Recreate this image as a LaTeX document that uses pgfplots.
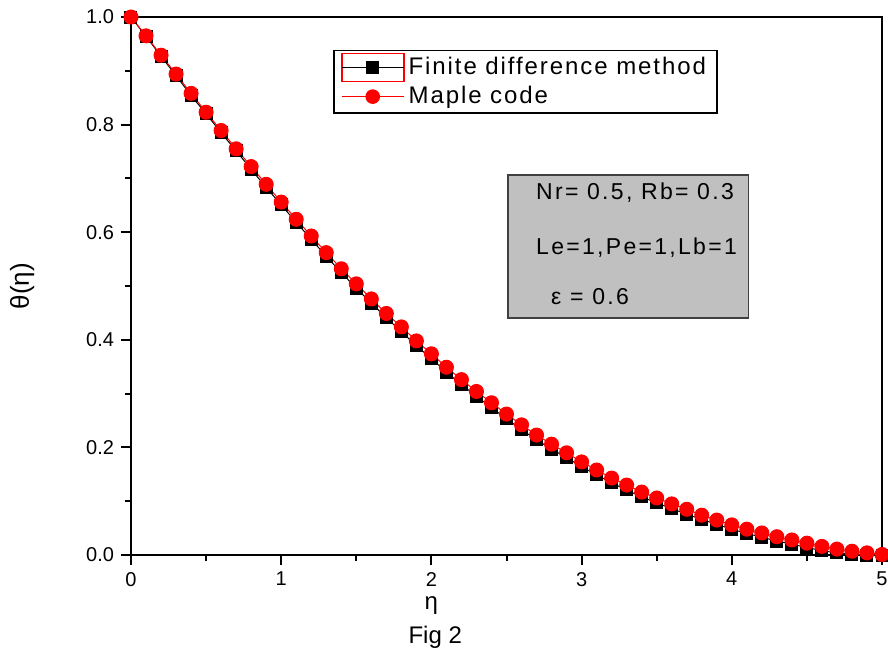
\documentclass[border=0pt]{standalone}
\usepackage{pgfplots}
\pgfplotsset{compat=1.18}
\usepackage{fontspec}
\setmainfont{Liberation Sans}
\newfontfamily\widefont[LetterSpace=8]{Liberation Sans}
\newfontfamily\boxfont[LetterSpace=10]{Liberation Sans}
\definecolor{boxgray}{RGB}{192,192,192}

\pgfplotstableread{
x y
0 1.000
0.1 0.964
0.2 0.927
0.3 0.891
0.4 0.854
0.5 0.820
0.6 0.785
0.7 0.751
0.8 0.717
0.9 0.683
1.0 0.651
1.1 0.618
1.2 0.587
1.3 0.555
1.4 0.525
1.5 0.496
1.6 0.468
1.7 0.441
1.8 0.415
1.9 0.389
2.0 0.365
2.1 0.340
2.2 0.317
2.3 0.295
2.4 0.274
2.5 0.253
2.6 0.233
2.7 0.214
2.8 0.197
2.9 0.181
3.0 0.164
3.1 0.149
3.2 0.134
3.3 0.121
3.4 0.108
3.5 0.097
3.6 0.086
3.7 0.076
3.8 0.066
3.9 0.057
4.0 0.048
4.1 0.040
4.2 0.033
4.3 0.026
4.4 0.020
4.5 0.014
4.6 0.008
4.7 0.004
4.8 0.001
4.9 0.000
5.0 0.000
}\fdm

\pgfplotstableread{
x y
0 1.000
0.1 0.965
0.2 0.929
0.3 0.894
0.4 0.858
0.5 0.823
0.6 0.789
0.7 0.755
0.8 0.722
0.9 0.689
1.0 0.656
1.1 0.624
1.2 0.593
1.3 0.562
1.4 0.532
1.5 0.504
1.6 0.476
1.7 0.449
1.8 0.424
1.9 0.398
2.0 0.374
2.1 0.349
2.2 0.326
2.3 0.304
2.4 0.283
2.5 0.262
2.6 0.242
2.7 0.223
2.8 0.206
2.9 0.190
3.0 0.173
3.1 0.158
3.2 0.143
3.3 0.130
3.4 0.117
3.5 0.106
3.6 0.095
3.7 0.085
3.8 0.074
3.9 0.065
4.0 0.056
4.1 0.048
4.2 0.041
4.3 0.034
4.4 0.028
4.5 0.022
4.6 0.016
4.7 0.011
4.8 0.007
4.9 0.004
5.0 0.001
}\maple

\begin{document}
\begin{tikzpicture}
\useasboundingbox (-65.5pt,-53pt) rectangle (378.5pt,277.5pt);
\begin{axis}[
  at={(0,0)}, anchor=south west,
  scale only axis,
  width=375.5pt, height=269pt,
  xmin=0, xmax=5, ymin=0, ymax=1,
  xtick={0,1,2,3,4,5},
  minor xtick={0.5,1.5,2.5,3.5,4.5},
  ytick={0,0.2,0.4,0.6,0.8,1.0},
  minor ytick={0.1,0.3,0.5,0.7,0.9},
  tick pos=left,
  tick align=outside,
  major tick length=5pt,
  minor tick length=3pt,
  axis line style={line width=1pt},
  every tick/.style={black, line width=1pt},
  /pgf/number format/assume math mode=true,
  yticklabel style={/pgf/number format/.cd, fixed, fixed zerofill, precision=1},
  xticklabel style={/pgf/number format/.cd, fixed, precision=0},
  ticklabel style={font=\fontsize{10}{11}\selectfont},
  xlabel={η},
  xlabel style={at={(axis description cs:0.40,-0.093)}, anchor=center, font=\fontsize{12}{13}\selectfont},
  ylabel={θ(η)},
  ylabel style={at={(axis description cs:-0.145,0.5)}, anchor=center, font=\fontsize{13}{14}\selectfont},
  legend style={at={(rel axis cs:0.269,0.939)}, anchor=north west, draw=black, line width=0.8pt,
    font=\widefont\fontsize{12}{13}\selectfont, legend cell align=left,
    row sep=0pt, inner xsep=3.5pt, inner ysep=1pt},
]
\addplot[black, line width=0.5pt, mark=square*, mark size=3pt, mark options={fill=black, draw=black, solid},
  legend image code/.code={
    \draw[draw=red, line width=0.9pt] (0pt,-7pt) rectangle (31pt,7pt);
    \draw[draw=black, line width=0.5pt] (0pt,0pt) -- (31pt,0pt);
    \fill[black] (12.5pt,-3pt) rectangle (18.5pt,3pt);
  }] table[x=x,y=y] {\fdm};
\addlegendentry{Finite difference method}
\addplot[red, line width=0.5pt, mark=*, mark size=3.5pt, mark options={fill=red, draw=red, solid},
  legend image code/.code={
    \draw[draw=red, line width=0.5pt] (0pt,0pt) -- (31pt,0pt);
    \fill[red] (15.5pt,0pt) circle (3.4pt);
  }] table[x=x,y=y] {\maple};
\addlegendentry{Maple code}

\draw[fill=boxgray, draw=black!75, line width=0.8pt] (rel axis cs:0.502,0.4405) rectangle (rel axis cs:0.822,0.706);
\node[anchor=west, font=\boxfont\fontsize{11.5}{12}\selectfont, inner sep=0pt] at (rel axis cs:0.539,0.673) {Nr= 0.5, Rb= 0.3};
\node[anchor=west, font=\boxfont\fontsize{11.5}{12}\selectfont, inner sep=0pt] at (rel axis cs:0.539,0.571) {Le=1,Pe=1,Lb=1};
\node[anchor=west, font=\boxfont\fontsize{11.5}{12}\selectfont, inner sep=0pt] at (rel axis cs:0.559,0.481) {ε = 0.6};
\end{axis}
\node[anchor=center, font=\fontsize{12}{13}\selectfont] at (152.1pt,-40.9pt) {Fig 2};
\end{tikzpicture}
\end{document}
